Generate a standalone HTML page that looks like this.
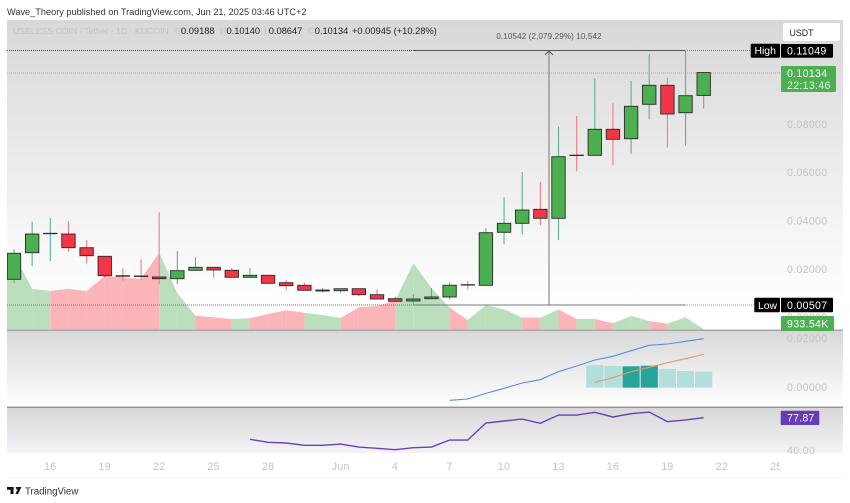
<!DOCTYPE html>
<html lang="en">
<head>
<meta charset="utf-8">
<title>USELESS COIN / Tether chart</title>
<style>
html,body{margin:0;padding:0;background:#fff;width:850px;height:503px;overflow:hidden}
svg{display:block;filter:blur(0.3px)}
text{font-family:"Liberation Sans",sans-serif}
</style>
</head>
<body>
<svg id="chart" xmlns="http://www.w3.org/2000/svg" width="850" height="503" viewBox="0 0 850 503">
  <defs>
    <linearGradient id="mainBg" x1="0" y1="0" x2="0" y2="1">
      <stop offset="0" stop-color="#d8d8d8"/>
      <stop offset="0.33" stop-color="#e6e6e6"/>
      <stop offset="0.68" stop-color="#f5f5f5"/>
      <stop offset="0.92" stop-color="#ffffff"/>
    </linearGradient>
    <linearGradient id="macdBg" x1="0" y1="0" x2="0" y2="1">
      <stop offset="0" stop-color="#d9d9d9"/>
      <stop offset="1" stop-color="#ffffff"/>
    </linearGradient>
    <linearGradient id="rsiBg" x1="0" y1="0" x2="0" y2="1">
      <stop offset="0" stop-color="#d8d8d8"/>
      <stop offset="1" stop-color="#f4f3f8"/>
    </linearGradient>
    <clipPath id="plotClip"><rect x="7" y="20" width="836" height="434"/></clipPath>
    <clipPath id="timeClip"><rect x="7" y="454" width="773" height="24"/></clipPath>
  </defs>

  <text x="7" y="15" font-size="9.2" fill="#333">Wave_Theory published on TradingView.com, Jun 21, 2025 03:46 UTC+2</text>

  <rect x="7" y="20" width="836" height="310" fill="url(#mainBg)"/>
  <rect x="7" y="331" width="836" height="76" fill="url(#macdBg)"/>
  <rect x="7" y="408" width="836" height="45" fill="url(#rsiBg)"/>

  <g id="volumeLayer" clip-path="url(#plotClip)"></g>

  <line x1="7" x2="413" y1="50.5" y2="50.5" stroke="#444" stroke-width="1" stroke-dasharray="1 1"/>
  <line x1="685" x2="751" y1="50.5" y2="50.5" stroke="#777" stroke-width="1" stroke-dasharray="1 1"/>
  <line x1="7" x2="781" y1="73" y2="73" stroke="#e58f95" stroke-width="1" stroke-dasharray="1 1"/>
  <line x1="7" x2="413" y1="305" y2="305" stroke="#777" stroke-width="1" stroke-dasharray="1 1"/>
  <line x1="685" x2="754" y1="305" y2="305" stroke="#999" stroke-width="1" stroke-dasharray="1 1"/>

  <g id="candleLayer" clip-path="url(#plotClip)"></g>

  <g>
    <line x1="413" x2="685" y1="50.5" y2="50.5" stroke="#555" stroke-width="1"/>
    <line x1="413" x2="685" y1="305" y2="305" stroke="#777" stroke-width="1"/>
    <line x1="549" x2="549" y1="51" y2="305" stroke="#777" stroke-width="1"/>
    <polyline points="545,55 549,51 553,55" fill="none" stroke="#555" stroke-width="1"/>
    <text x="549" y="39" font-size="8" letter-spacing="0.15" text-anchor="middle" fill="#555">0.10542 (2,079.29%) 10,542</text>
  </g>

  <g id="macdLayer"></g>
  <g id="rsiLayer"></g>

  <rect x="7" y="329.5" width="836" height="1.6" fill="#a9a9a9"/>
  <rect x="7" y="406.7" width="836" height="1" fill="#666"/>

  <g id="axisLayer"></g>
  <line x1="7" x2="843" y1="477.5" y2="477.5" stroke="#f3f3f3" stroke-width="1"/>

  <g font-size="9.3">
    <text x="13" y="34" font-size="8.7" fill="#c2c2c2">USELESS COIN / Tether · 1D · KUCOIN</text>
    <text x="175" y="34" fill="#c2c2c2">O</text>
    <text x="181" y="34" fill="#222">0.09188</text>
    <text x="220" y="34" fill="#c2c2c2">H</text>
    <text x="226.5" y="34" fill="#222">0.10140</text>
    <text x="264" y="34" fill="#c2c2c2">L</text>
    <text x="268.7" y="34" fill="#222">0.08647</text>
    <text x="308" y="34" fill="#c2c2c2">C</text>
    <text x="314.7" y="34" fill="#222">0.10134</text>
    <text x="352" y="34" fill="#222">+0.00945 (+10.28%)</text>
  </g>

  <rect x="783" y="23" width="57" height="18" rx="2" fill="#ffffff"/>
  <text x="789.5" y="36" font-size="8.8" fill="#222">USDT</text>

  <rect x="750.7" y="43.7" width="29.3" height="14" rx="1" fill="#000"/>
  <text x="754.5" y="54" font-size="10.4" fill="#fff">High</text>
  <rect x="781" y="44" width="52" height="13.7" rx="1" fill="#000"/>
  <text x="787" y="54.5" font-size="10.6" letter-spacing="0.3" fill="#fff">0.11049</text>

  <rect x="781" y="66" width="55" height="26" rx="1" fill="#4caf50"/>
  <text x="787" y="77" font-size="10.6" letter-spacing="0.3" fill="#fff">0.10134</text>
  <text x="787" y="89" font-size="10.6" letter-spacing="0.3" fill="#e2f3e3">22:13:46</text>

  <rect x="754.3" y="297.7" width="25.7" height="14.6" rx="1" fill="#000"/>
  <text x="758" y="309" font-size="10.4" fill="#fff">Low</text>
  <rect x="781" y="297.7" width="52" height="14.6" rx="1" fill="#000"/>
  <text x="787" y="309" font-size="10.6" letter-spacing="0.3" fill="#fff">0.00507</text>

  <rect x="781" y="316" width="53" height="15" rx="1" fill="#4caf50"/>
  <text x="787" y="327.3" font-size="10.6" letter-spacing="0.3" fill="#fff">933.54K</text>

  <rect x="780.7" y="410.7" width="38.6" height="14.3" rx="1" fill="#673ab7"/>
  <text x="787" y="421.7" font-size="10.6" letter-spacing="0.2" fill="#fff">77.87</text>

  <g>
    <path d="M7 487h6.5v7h-3v-4.2H7zM14 487h7.4l-3.4 7h-2.6l2.2-4.6H14z M15 487a1.3 1.3 0 1 0 0.01 0z" fill="#111"/>
    <text x="25" y="494.5" font-size="9.7" fill="#333">TradingView</text>
  </g>
</svg>

<script>
const priceTickValues = [0.08, 0.06, 0.04, 0.02, 0];
const priceTickLabels = ["0.08000", "0.06000", "0.04000", "0.02000", "0.00000"];
const macdTickValues = [0.02, 0];
const macdTickLabels = ["0.02000", "0.00000"];
const rsiTickValues = [40];
const rsiTickLabels = ["40.00"];
const timeTickBars = [2, 5, 8, 11, 14, 18, 21, 24, 27, 30, 33, 36, 39, 42];
const timeTickLabels = ["16", "19", "22", "25", "28", "Jun", "4", "7", "10", "13", "16", "19", "22", "25"];

const opens = [.01574,.02675,.03470,.03449,.02882,.02526,.01723,.01710,.01669,.01598,.01946,.02070,.01946,.01656,.01739,.01433,.01325,.01089,.01101,.01184,.00936,.00770,.00675,.00770,.00841,.01350,.01325,.03520,.03892,.04472,.04099,.06715,.06708,.07785,.07395,.08820,.09607,.08472,.09188];
const highs = [.02816,.03959,.04112,.03988,.03201,.02530,.02029,.02402,.04348,.02745,.02497,.02070,.02041,.02041,.01739,.01545,.01433,.01213,.01184,.01184,.01159,.00853,.00965,.01213,.01449,.01503,.03685,.04969,.06017,.05615,.07892,.08335,.09897,.08861,.09785,.10903,.09921,.11049,.10140];
const lows = [.01408,.02124,.02331,.02716,.02236,.01640,.01516,.01545,.01366,.01366,.01946,.01640,.01656,.01640,.01408,.01130,.01118,.01035,.01019,.00870,.00758,.00663,.00507,.00745,.00745,.01143,.01325,.03023,.03437,.03810,.03201,.06058,.06679,.06294,.06774,.08199,.07023,.07106,.08647];
const closes = [.02650,.03449,.03478,.02882,.02551,.01723,.01700,.01690,.01598,.01930,.02070,.01959,.01656,.01739,.01408,.01309,.01118,.01130,.01184,.00936,.00758,.00663,.00758,.00841,.01325,.01337,.03503,.03892,.04443,.04099,.06650,.06700,.07785,.07371,.08737,.09607,.08418,.09176,.10134];
const volumes = [99.8,54.9,51.9,54.9,51.9,71.8,70.1,67.8,102.8,48.8,19,16.9,14.6,15.6,21.3,26.2,23,20,16,30.2,31.9,39,88.7,55.9,29.7,13.3,33.3,27.5,16.4,16.4,27.5,14.6,14.6,8.9,18.6,12,8.4,16.9,0.93354];

const macdFirstBar = 24;
const macdValues = [-.00549,-.00494,-.00261,-.00055,.00165,.00302,.00631,.00864,.01111,.01262,.01495,.01714,.01770,.01879,.01989];
const signalFirstBar = 32;
const signalValues = [.00193,.00384,.00631,.00809,.01002,.01166,.01344];
const histogramValues = [.00905,.00864,.00852,.00877,.00741,.00658,.00630];
const histogramStrong = [false,false,true,true,false,false,false];

const rsiFirstBar = 13;
const rsiValues = [52.5,49,48.2,45.5,45.5,47,43.5,42,40.4,42.7,43.5,51.7,51.7,71.6,74,76.3,71.3,81,81,84.2,78.7,82.6,84.5,73.2,75.2,77.87];

const NS = "http://www.w3.org/2000/svg";
function xBar(i) { return 14 + 18.15 * i; }
function yPrice(p) { return 317.3 - p * 2415; }
function yVolume(v) { return 330 - v / 1.33; }
function yMacd(v) { return 387 - v * 2430; }
function yRsi(v) { return 450 - (v - 40) * 0.853; }
function make(tag, attrs) {
  const el = document.createElementNS(NS, tag);
  for (const k in attrs) el.setAttribute(k, attrs[k]);
  return el;
}
function isUp(i) { return closes[i] >= opens[i]; }

const volumeLayer = document.getElementById("volumeLayer");
const candleLayer = document.getElementById("candleLayer");
const macdLayer = document.getElementById("macdLayer");
const rsiLayer = document.getElementById("rsiLayer");
const axisLayer = document.getElementById("axisLayer");

volumes.forEach(function (v, i) {
  const x1 = i === 0 ? 7 : xBar(i - 1);
  const v1 = i === 0 ? v : volumes[i - 1];
  const poly = make("polygon", {
    points: x1 + ",330 " + x1 + "," + yVolume(v1) + " " + xBar(i) + "," + yVolume(v) + " " + xBar(i) + ",330",
    fill: isUp(i) ? "#bbdfbd" : "#fbb4b8"
  });
  
  
  volumeLayer.appendChild(poly);
});

opens.forEach(function (o, i) {
  const c = closes[i];
  const up = isUp(i);
  const x = xBar(i);
  const wick = make("line", {
    x1: x, x2: x, y1: yPrice(highs[i]), y2: yPrice(lows[i]),
    stroke: up ? "#5bb094" : "#f47c87", "stroke-width": 1.1
  });
  
  
  candleLayer.appendChild(wick);
  const top = yPrice(Math.max(o, c));
  const bottom = yPrice(Math.min(o, c));
  const body = make("rect", {
    x: x - 6.7, y: top, width: 13.4, height: Math.max(bottom - top, 0.4),
    fill: up ? "#4caf50" : "#f23645", stroke: "#2a2a2a", "stroke-width": 0.9
  });
  
  
  candleLayer.appendChild(body);
});

histogramValues.forEach(function (v, i) {
  const x = xBar(signalFirstBar + i);
  const bar = make("rect", {
    x: x - 8.6, y: yMacd(v), width: 17.2, height: yMacd(0) - yMacd(v) + 0.7,
    fill: histogramStrong[i] ? "#26a69a" : "#b2dfdb"
  });
  
  
  macdLayer.appendChild(bar);
});

const macdLine = make("polyline", {
  points: macdValues.map(function (v, i) { return xBar(macdFirstBar + i) + "," + yMacd(v); }).join(" "),
  fill: "none", stroke: "#5a8be8", "stroke-width": 1.1
});


macdLayer.appendChild(macdLine);

const signalLine = make("polyline", {
  points: signalValues.map(function (v, i) { return xBar(signalFirstBar + i) + "," + yMacd(v); }).join(" "),
  fill: "none", stroke: "#f09a55", "stroke-width": 1.1
});


macdLayer.appendChild(signalLine);

const rsiLine = make("polyline", {
  points: rsiValues.map(function (v, i) { return xBar(rsiFirstBar + i) + "," + yRsi(v); }).join(" "),
  fill: "none", stroke: "#6a3fb8", "stroke-width": 1.4
});


rsiLayer.appendChild(rsiLine);

function axisLabel(text, x, y, anchor) {
  const t = make("text", { x: x, y: y, "font-size": 10.6, "letter-spacing": 0.3, fill: "#c3c3c3", "text-anchor": anchor });
  t.textContent = text;
  return t;
}
priceTickValues.forEach(function (v, i) {
  const t = axisLabel(priceTickLabels[i], 787, yPrice(v) + 3.8, "start");
  
  
  axisLayer.appendChild(t);
});
macdTickValues.forEach(function (v, i) {
  const t = axisLabel(macdTickLabels[i], 787, yMacd(v) + 3.8, "start");
  
  
  axisLayer.appendChild(t);
});
rsiTickValues.forEach(function (v, i) {
  const t = axisLabel(rsiTickLabels[i], 787, yRsi(v) + 3.8, "start");
  
  
  axisLayer.appendChild(t);
});
const timeGroup = make("g", { "clip-path": "url(#timeClip)" });


axisLayer.appendChild(timeGroup);
timeTickBars.forEach(function (b, i) {
  const t = axisLabel(timeTickLabels[i], xBar(b), 470, "middle");
  
  
  timeGroup.appendChild(t);
});
</script>
</body>
</html>
